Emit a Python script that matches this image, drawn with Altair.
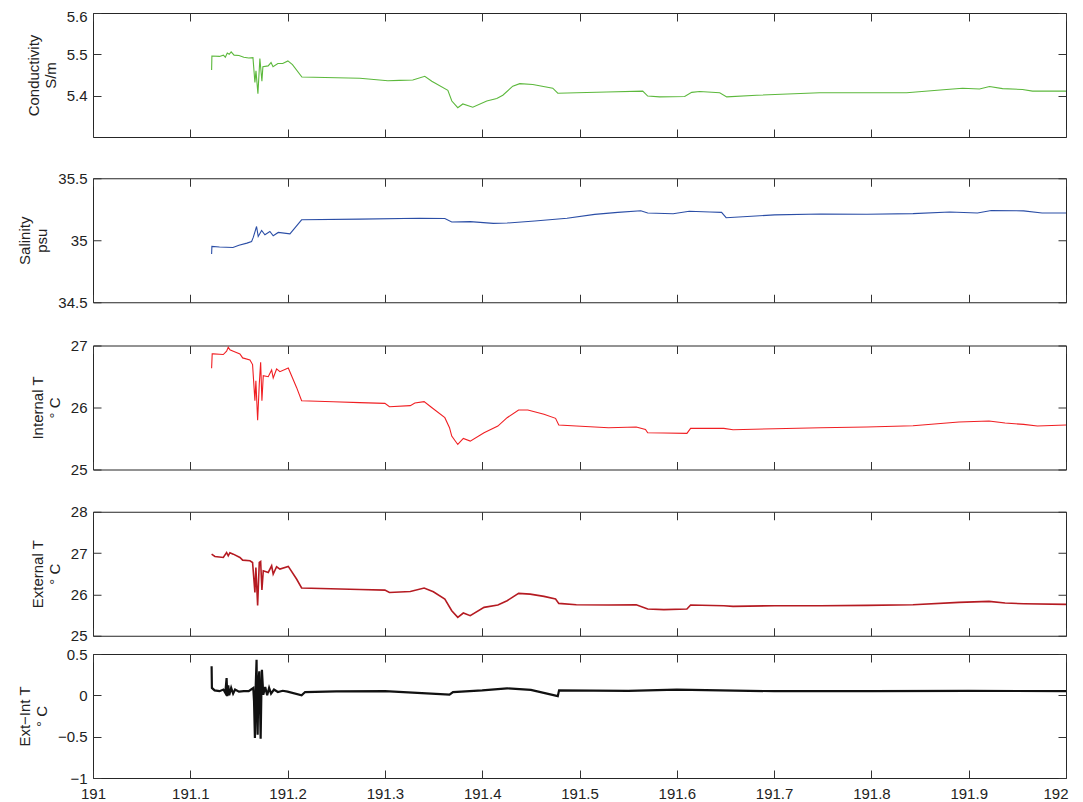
import altair as alt
import pandas as pd

# ---------------- data ----------------
time_ticks = [191.0, 191.1, 191.2, 191.3, 191.4, 191.5, 191.6, 191.7, 191.8, 191.9, 192.0]

cond_t = [191.1219, 191.1222, 191.130, 191.134, 191.136, 191.138, 191.140, 191.142, 191.145, 191.150,
          191.155, 191.160, 191.1644, 191.1664, 191.1675, 191.1695, 191.1715, 191.1736, 191.1746, 191.180,
          191.183, 191.185, 191.190, 191.195, 191.2003, 191.205, 191.2147, 191.2743, 191.303, 191.315,
          191.3287, 191.341, 191.3482, 191.3647, 191.3688, 191.3749, 191.3801, 191.3903, 191.4047, 191.415,
          191.4212, 191.4314, 191.4386, 191.452, 191.4725, 191.4777, 191.4972, 191.528, 191.565, 191.5701,
          191.5824, 191.6081, 191.6153, 191.6235, 191.6441, 191.6513, 191.6821, 191.7468, 191.8362, 191.8772,
          191.8937, 191.9111, 191.9214, 191.9348, 191.9553, 191.9656, 192.0]
cond_v = [5.462, 5.496, 5.495, 5.498, 5.493, 5.503, 5.500, 5.506, 5.498, 5.497,
          5.493, 5.491, 5.492, 5.432, 5.460, 5.405, 5.490, 5.435, 5.470, 5.472,
          5.480, 5.470, 5.478, 5.478, 5.484, 5.475, 5.445, 5.442, 5.436, 5.437,
          5.438, 5.447, 5.435, 5.413, 5.387, 5.371, 5.380, 5.372, 5.387, 5.393,
          5.401, 5.423, 5.429, 5.427, 5.418, 5.406, 5.407, 5.409, 5.411, 5.399,
          5.397, 5.398, 5.408, 5.410, 5.407, 5.397, 5.401, 5.407, 5.407, 5.415,
          5.418, 5.416, 5.422, 5.417, 5.415, 5.411, 5.411]

sal_t = [191.1219, 191.1222, 191.130, 191.1438, 191.150, 191.1582, 191.163, 191.1647, 191.1681, 191.1698,
         191.1733, 191.1767, 191.1818, 191.1852, 191.1904, 191.2024, 191.2144, 191.274, 191.3355, 191.3616,
         191.3687, 191.3877, 191.4114, 191.4256, 191.454, 191.4872, 191.5156, 191.5393, 191.563, 191.5701,
         191.5962, 191.6128, 191.6341, 191.646, 191.6507, 191.6768, 191.7005, 191.7479, 191.7953, 191.8427,
         191.8806, 191.909, 191.9232, 191.9564, 191.9754, 192.0]
sal_v = [34.889, 34.950, 34.945, 34.942, 34.960, 34.977, 34.990, 35.023, 35.111, 35.031,
         35.079, 35.044, 35.071, 35.036, 35.063, 35.052, 35.165, 35.170, 35.178, 35.176,
         35.147, 35.150, 35.136, 35.139, 35.155, 35.177, 35.209, 35.225, 35.238, 35.220,
         35.214, 35.234, 35.228, 35.225, 35.182, 35.193, 35.205, 35.212, 35.210, 35.215,
         35.228, 35.220, 35.240, 35.237, 35.220, 35.220]

tin_t = [191.1219, 191.1225, 191.1236, 191.130, 191.1339, 191.1373, 191.139, 191.1407, 191.1442, 191.151,
         191.1538, 191.1613, 191.164, 191.1664, 191.1674, 191.1692, 191.1709, 191.1723, 191.1736, 191.175,
         191.1801, 191.1836, 191.1852, 191.1887, 191.1921, 191.2007, 191.2092, 191.2144, 191.2468, 191.274,
         191.300, 191.3047, 191.3261, 191.3308, 191.3403, 191.3474, 191.3616, 191.3664, 191.3687, 191.3749,
         191.3806, 191.3877, 191.4019, 191.4161, 191.4256, 191.4374, 191.4469, 191.4635, 191.4754, 191.4787,
         191.4967, 191.5299, 191.5583, 191.5678, 191.5701, 191.5867, 191.6104, 191.6142, 191.6483, 191.6578,
         191.7005, 191.7479, 191.7953, 191.8427, 191.890, 191.9209, 191.9374, 191.9564, 191.9706, 192.0]
tin_v = [26.632, 26.865, 26.865, 26.860, 26.854, 26.908, 26.973, 26.930, 26.908, 26.865,
         26.800, 26.768, 26.692, 26.108, 26.430, 25.795, 26.378, 26.730, 26.108, 26.514,
         26.497, 26.605, 26.476, 26.622, 26.578, 26.638, 26.324, 26.108, 26.092, 26.078,
         26.067, 26.013, 26.030, 26.073, 26.094, 26.008, 25.836, 25.674, 25.539, 25.404,
         25.501, 25.458, 25.593, 25.701, 25.836, 25.960, 25.960, 25.890, 25.825, 25.717,
         25.701, 25.674, 25.685, 25.647, 25.593, 25.588, 25.582, 25.663, 25.663, 25.642,
         25.658, 25.674, 25.685, 25.706, 25.765, 25.782, 25.749, 25.728, 25.701, 25.717]

tex_t = [191.1219, 191.1253, 191.1339, 191.1373, 191.139, 191.1407, 191.1442, 191.151, 191.1538, 191.1613,
         191.164, 191.1664, 191.1674, 191.1692, 191.1709, 191.1723, 191.1736, 191.175, 191.1801, 191.1836,
         191.1852, 191.1887, 191.1921, 191.2007, 191.2092, 191.2144, 191.274, 191.300, 191.3047, 191.3261,
         191.3403, 191.3498, 191.3616, 191.3687, 191.3749, 191.3806, 191.3877, 191.4019, 191.4161, 191.4256,
         191.4374, 191.4493, 191.4635, 191.4754, 191.4787, 191.4967, 191.5299, 191.5583, 191.5701, 191.5867,
         191.6104, 191.6142, 191.6483, 191.6578, 191.7005, 191.7479, 191.7953, 191.8427, 191.890, 191.9209,
         191.9374, 191.9564, 192.0]
tex_v = [26.974, 26.917, 26.893, 27.014, 26.933, 27.010, 26.974, 26.893, 26.830, 26.813,
         26.773, 26.050, 26.650, 25.730, 26.773, 26.797, 26.107, 26.573, 26.532, 26.693,
         26.492, 26.669, 26.613, 26.677, 26.372, 26.156, 26.120, 26.104, 26.048, 26.072,
         26.153, 26.064, 25.888, 25.606, 25.446, 25.550, 25.486, 25.687, 25.743, 25.847,
         26.024, 26.008, 25.952, 25.888, 25.783, 25.751, 25.743, 25.751, 25.647, 25.631,
         25.647, 25.743, 25.727, 25.711, 25.727, 25.727, 25.735, 25.751, 25.807, 25.831,
         25.791, 25.775, 25.759]

dif_t = [191.1219, 191.1222, 191.125, 191.130, 191.134, 191.136, 191.1373, 191.138, 191.139, 191.140,
         191.142, 191.144, 191.146, 191.150, 191.155, 191.160, 191.1647, 191.1655, 191.1664, 191.1672,
         191.1681, 191.1687, 191.1692, 191.170, 191.1709, 191.1716, 191.1723, 191.173, 191.1736, 191.175,
         191.177, 191.179, 191.181, 191.183, 191.186, 191.190, 191.195, 191.200, 191.2144, 191.218,
         191.250, 191.300, 191.3664, 191.370, 191.400, 191.4256, 191.450, 191.4777, 191.479, 191.550,
         191.600, 191.700, 191.800, 191.900, 192.0]
dif_v = [0.351, 0.090, 0.060, 0.050, 0.070, 0.030, 0.210, -0.010, 0.120, 0.000,
         0.090, 0.020, 0.070, 0.045, 0.050, 0.050, 0.089, -0.070, -0.516, 0.100,
         0.431, -0.200, -0.476, 0.150, 0.290, -0.100, -0.524, 0.000, 0.310, 0.008,
         0.100, 0.000, 0.090, 0.020, 0.070, 0.040, 0.055, 0.045, 0.000, 0.040,
         0.048, 0.050, 0.009, 0.040, 0.060, 0.085, 0.065, -0.010, 0.060, 0.055,
         0.070, 0.050, 0.052, 0.055, 0.050]

# ---------------- styling ----------------
W = 973
H = 124
FONT = "Liberation Sans"
TXT = "#222222"


def panel(t, v, ydom, yticks, title, color, sw, xmode, lpad=16, flush_top=False):
    df = pd.DataFrame({"t": t, "v": v})
    base = alt.Chart(df)
    xs = alt.Scale(domain=[191, 192], nice=False, zero=False)
    ys = alt.Scale(domain=ydom, nice=False, zero=False)

    if xmode == "show":
        xaxis = alt.Axis(orient="bottom", values=time_ticks, ticks=False, domain=False,
                         grid=False, title=None, format="~g", labelPadding=8,
                         labelFlush=False, labelOverlap=False,
                         labelAlign={"condition": {"test": "datum.value >= 192", "value": "right"},
                                     "value": "center"},
                         labelOffset={"condition": {"test": "datum.value >= 192", "value": 2},
                                      "value": 0})
    elif xmode == "hidden":
        # invisible labels only reserve vertical room between panels
        xaxis = alt.Axis(orient="bottom", values=time_ticks, ticks=False, domain=False,
                         grid=False, title=None, format="~g", labelPadding=lpad,
                         labelFlush=False, labelOverlap=False, labelColor="transparent",
                         labelAlign={"condition": {"test": "datum.value >= 192", "value": "right"},
                                     "value": "center"})
    else:
        xaxis = alt.Axis(orient="bottom", values=time_ticks, ticks=False, domain=False,
                         grid=False, title=None, labels=False)

    yax = dict(orient="left", values=yticks, ticks=False, domain=False, grid=False,
               title=title, format="~g", labelPadding=6, titlePadding=8,
               labelOverlap=False, titleLineHeight=17)
    if flush_top:
        yax.update(labelFlush=True, labelFlushOffset=4)

    line = base.mark_line(color=color, strokeWidth=sw, clip=True).encode(
        x=alt.X("t:Q", scale=xs, axis=xaxis),
        y=alt.Y("v:Q", scale=ys, axis=alt.Axis(**yax)),
    )
    tk1 = base.mark_line(opacity=0).encode(
        x=alt.X("t:Q", scale=xs, axis=alt.Axis(
            orient="top", offset=-H, values=time_ticks, labels=False, tickSize=8,
            domain=False, grid=False, title=None)),
        y=alt.Y("v:Q", scale=ys, axis=alt.Axis(
            orient="right", offset=-W, values=yticks, labels=False, tickSize=8,
            domain=False, grid=False, title=None)),
    )
    tk2 = base.mark_line(opacity=0).encode(
        x=alt.X("t:Q", scale=xs, axis=alt.Axis(
            orient="bottom", offset=-H, values=time_ticks, labels=False, tickSize=8,
            domain=False, grid=False, title=None)),
        y=alt.Y("v:Q", scale=ys, axis=alt.Axis(
            orient="left", offset=-W, values=yticks, labels=False, tickSize=8,
            domain=False, grid=False, title=None)),
    )
    return (alt.layer(line, tk1, tk2)
            .resolve_axis(x="independent", y="independent")
            .properties(width=W, height=H))


p1 = panel(cond_t, cond_v, [5.3, 5.6], [5.4, 5.5, 5.6], ["Conductivity", "S/m"], "#5cb83c", 1.1,
           "hidden", lpad=16, flush_top=True)
p2 = panel(sal_t, sal_v, [34.5, 35.5], [34.5, 35, 35.5], ["Salinity", "psu"], "#2b4ea6", 1.1,
           "hidden", lpad=18)
p3 = panel(tin_t, tin_v, [25, 27], [25, 26, 27], ["Internal T", "° C"], "#f01f23", 1.1,
           "hidden", lpad=17)
p4 = panel(tex_t, tex_v, [25, 28], [25, 26, 27, 28], ["External T", "° C"], "#b51b22", 1.6, "none")
p5 = panel(dif_t, dif_v, [-1, 0.5], [-1, -0.5, 0, 0.5], ["Ext\u2212Int T", "° C"], "#111111", 2.2, "show")

chart = (alt.vconcat(p1, p2, p3, p4, p5, spacing=1.25, bounds="full")
         .properties(padding={"left": 8, "top": 0, "right": 0, "bottom": 0})
         .configure_view(stroke="#262626", strokeWidth=1)
         .configure_axis(labelFont=FONT, labelFontSize=15, labelColor=TXT,
                         titleFont=FONT, titleFontSize=15, titleFontWeight="normal",
                         titleColor=TXT, tickColor="#333333", tickWidth=1))

chart.save("out.html", embed_options={"renderer": "svg", "actions": False})
